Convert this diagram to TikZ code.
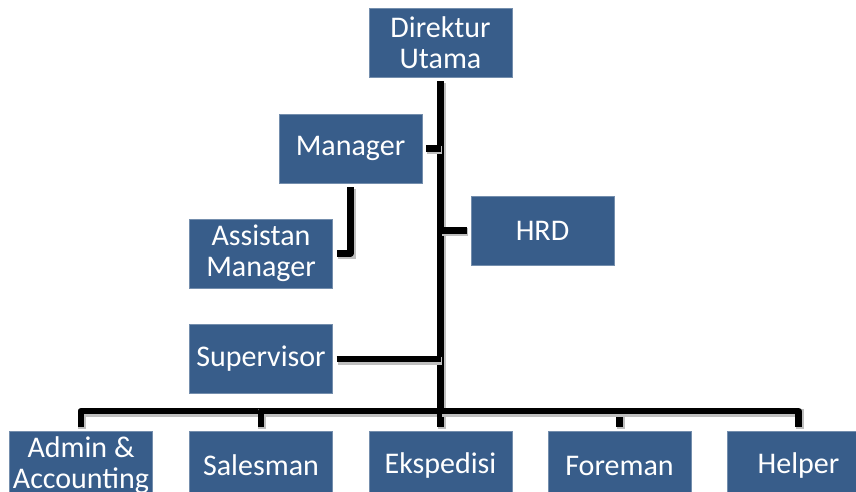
\documentclass[tikz,border=0pt]{standalone}
\usepackage{fontspec}
\setmainfont{Carlito}
\usetikzlibrary{positioning}
\definecolor{boxblue}{HTML}{385D8A}

\begin{document}
\begin{tikzpicture}[x=1pt, y=-1pt,
  post/.style={draw=boxblue!70!white, line width=0.8pt, fill=boxblue, text=white,
    minimum width=143pt, minimum height=69pt, inner sep=0pt, outer sep=4pt,
    align=center, font=\fontsize{30}{31}\selectfont},
  link/.style={line width=6.5pt, line join=round,
    preaction={draw=black!25, line width=8pt, transform canvas={shift={(1pt,-1.5pt)}}}}]
\useasboundingbox (0,0) rectangle (856,492);
% top
\node[post] (dir) at (440.5,43) {Direktur\\Utama};
% staff
\node[post] (mgr) at (350.5,148.5) {Manager};
\node[post] (asst) at (261,253.5) {Assistan\\Manager};
\node[post] (hrd) at (542.5,230.5) {HRD};
\node[post] (sup) at (261,359) {Supervisor};
% bottom row
\node[post] (adm) at (81,465.5) {Admin \&\\Accounting};
\node[post] (sal) at (261,465.5) {Salesman};
\node[post] (eks) at (440.5,465.5) {Ekspedisi};
\node[post] (for) at (619.5,465.5) {Foreman};
\node[post] (hlp) at (798.5,465.5) {Helper};
\coordinate (bus) at (440.5,411);

\draw[link] (dir.south) -- (bus);
\draw[link] (mgr.east) -- (mgr.east -| dir.south);
\draw[link] (hrd.west) -- (hrd.west -| dir.south);
\draw[link] (sup.east) -- (sup.east -| dir.south);
\draw[link] (mgr.south) |- (asst.east);
\foreach \n in {adm,sal,eks,for,hlp}
  \draw[link] (bus) -| (\n.north);
\end{tikzpicture}
\end{document}
